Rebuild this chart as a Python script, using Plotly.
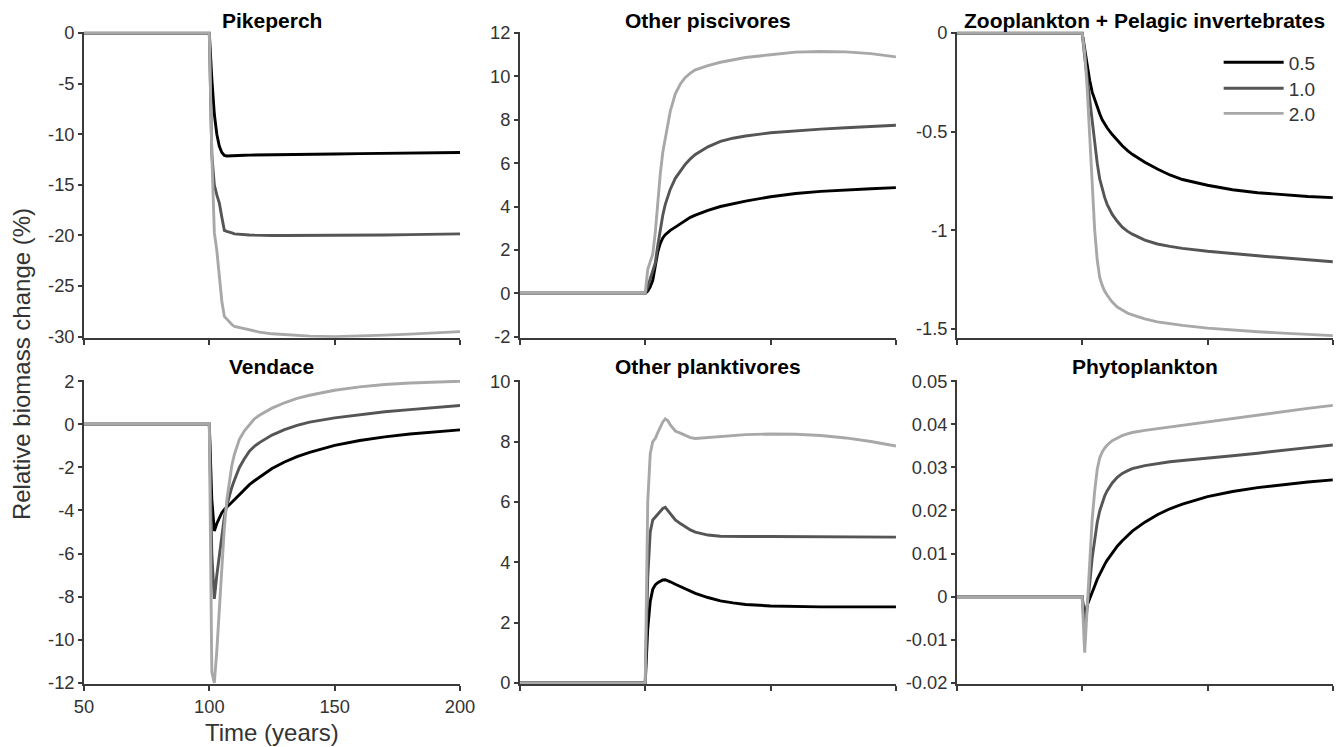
import plotly.graph_objects as go

# ---------------- data ----------------
years = [50, 100, 101, 102, 103, 104, 105, 106, 107, 108, 109, 110, 112, 114,
         116, 118, 120, 125, 130, 135, 140, 150, 160, 170, 180, 190, 200]
scenarios = ["0.5", "1.0", "2.0"]

pikeperch_05 = [0, 0, -4.5, -8.0, -10.0, -11.2, -11.8, -12.1, -12.15, -12.15, -12.12, -12.1, -12.1, -12.08,
                -12.06, -12.05, -12.05, -12.02, -12.0, -12.0, -11.98, -11.95, -11.92, -11.9, -11.87, -11.83, -11.8]
pikeperch_10 = [0, 0, -12, -15, -16, -16.8, -18.2, -19.5, -19.6, -19.65, -19.75, -19.85, -19.9, -19.93,
                -19.95, -19.97, -20.0, -20.0, -20.0, -20.0, -20.0, -20.0, -19.98, -19.95, -19.92, -19.88, -19.85]
pikeperch_20 = [0, 0, -12, -19.7, -21.5, -23.8, -26.5, -28.0, -28.3, -28.5, -28.8, -29.0, -29.1, -29.25,
                -29.35, -29.45, -29.55, -29.72, -29.82, -29.9, -29.95, -30.0, -29.95, -29.85, -29.75, -29.6, -29.5]

piscivores_05 = [0, 0, 0.1, 0.3, 0.6, 1.2, 1.9, 2.3, 2.55, 2.7, 2.8, 2.9, 3.05, 3.2,
                 3.35, 3.5, 3.6, 3.82, 4.0, 4.13, 4.25, 4.45, 4.6, 4.7, 4.77, 4.82, 4.87]
piscivores_10 = [0, 0, 0.3, 0.7, 1.0, 1.4, 2.2, 3.0, 3.6, 4.1, 4.5, 4.8, 5.3, 5.65,
                 5.95, 6.2, 6.4, 6.75, 7.0, 7.15, 7.25, 7.4, 7.5, 7.57, 7.63, 7.68, 7.75]
piscivores_20 = [0, 0, 1.1, 1.5, 1.8, 2.8, 4.2, 5.5, 6.5, 7.2, 7.9, 8.4, 9.2, 9.65,
                 9.95, 10.15, 10.3, 10.5, 10.65, 10.77, 10.87, 11.0, 11.12, 11.15, 11.13, 11.05, 10.9]

zoo_05 = [0, 0, -0.08, -0.17, -0.24, -0.3, -0.34, -0.38, -0.41, -0.44, -0.462, -0.482, -0.515, -0.545,
          -0.572, -0.595, -0.615, -0.655, -0.69, -0.72, -0.743, -0.772, -0.795, -0.81, -0.82, -0.829, -0.835]
zoo_10 = [0, 0, -0.12, -0.23, -0.33, -0.45, -0.57, -0.66, -0.74, -0.79, -0.835, -0.87, -0.92, -0.955,
          -0.985, -1.005, -1.02, -1.05, -1.07, -1.082, -1.092, -1.107, -1.12, -1.13, -1.14, -1.15, -1.16]
zoo_20 = [0, 0, -0.1, -0.28, -0.52, -0.78, -1.0, -1.15, -1.24, -1.28, -1.31, -1.33, -1.365, -1.39,
          -1.405, -1.42, -1.43, -1.45, -1.465, -1.475, -1.483, -1.497, -1.507, -1.515, -1.522, -1.53, -1.535]

vendace_05 = [0, 0, -3.5, -4.95, -4.6, -4.35, -4.1, -3.95, -3.85, -3.75, -3.62, -3.5, -3.25, -3.02,
              -2.8, -2.62, -2.45, -2.05, -1.75, -1.5, -1.3, -0.98, -0.75, -0.58, -0.45, -0.35, -0.26]
vendace_10 = [0, 0, -6, -8.1, -7.0, -6.0, -5.0, -4.3, -3.75, -3.3, -2.92, -2.6, -2.0, -1.6,
              -1.25, -1.02, -0.85, -0.5, -0.25, -0.05, 0.1, 0.3, 0.45, 0.58, 0.68, 0.78, 0.87]
vendace_20 = [0, 0, -11.5, -12, -10.5, -8.5, -6.5, -4.8, -3.5, -2.6, -1.9, -1.4, -0.7, -0.3,
              0.0, 0.25, 0.42, 0.75, 1.0, 1.2, 1.35, 1.58, 1.74, 1.85, 1.92, 1.97, 2.0]

planktivores_05 = [0, 0, 1.8, 2.7, 3.1, 3.25, 3.32, 3.38, 3.41, 3.42, 3.39, 3.35, 3.27, 3.19,
                   3.11, 3.04, 2.97, 2.83, 2.72, 2.65, 2.6, 2.55, 2.53, 2.52, 2.52, 2.52, 2.52]
planktivores_10 = [0, 0, 3.5, 5.0, 5.4, 5.5, 5.6, 5.7, 5.78, 5.82, 5.72, 5.6, 5.4, 5.28,
                   5.16, 5.07, 5.0, 4.9, 4.86, 4.85, 4.85, 4.85, 4.85, 4.85, 4.84, 4.84, 4.83]
planktivores_20 = [0, 0, 6.0, 7.6, 8.0, 8.1, 8.3, 8.5, 8.65, 8.75, 8.7, 8.55, 8.35, 8.28,
                   8.2, 8.13, 8.1, 8.13, 8.18, 8.21, 8.23, 8.25, 8.24, 8.2, 8.12, 8.0, 7.85]

phyto_05 = [0, 0, -0.005, -0.002, -0.0005, 0.0008, 0.0025, 0.004, 0.0053, 0.0065, 0.0075, 0.0085, 0.0102, 0.0117,
            0.013, 0.0142, 0.0152, 0.0173, 0.019, 0.0204, 0.0215, 0.0232, 0.0244, 0.0253, 0.026, 0.0266, 0.0271]
phyto_10 = [0, 0, -0.008, -0.003, 0.003, 0.009, 0.0135, 0.0172, 0.0199, 0.0218, 0.0234, 0.0246, 0.0264, 0.0277,
            0.0286, 0.0292, 0.0297, 0.0304, 0.0309, 0.0313, 0.0316, 0.0321, 0.0327, 0.0333, 0.034, 0.0346, 0.0352]
phyto_20 = [0, 0, -0.013, -0.003, 0.01, 0.018, 0.0245, 0.0295, 0.0322, 0.0336, 0.0345, 0.0352, 0.0362, 0.0369,
            0.0374, 0.0378, 0.0381, 0.0386, 0.039, 0.0394, 0.0398, 0.0406, 0.0414, 0.0421, 0.0429, 0.0437, 0.0444]

titles = ["Pikeperch", "Other piscivores", "Zooplankton + Pelagic invertebrates",
          "Vendace", "Other planktivores", "Phytoplankton"]

x_ticks = [50, 100, 150, 200]
x_ticklabels = ["50", "100", "150", "200"]

pike_ticks = [0, -5, -10, -15, -20, -25, -30]
pike_labels = ["0", "-5", "-10", "-15", "-20", "-25", "-30"]
pisc_ticks = [-2, 0, 2, 4, 6, 8, 10, 12]
pisc_labels = ["-2", "0", "2", "4", "6", "8", "10", "12"]
zoo_ticks = [0, -0.5, -1, -1.5]
zoo_labels = ["0", "-0.5", "-1", "-1.5"]
vend_ticks = [2, 0, -2, -4, -6, -8, -10, -12]
vend_labels = ["2", "0", "-2", "-4", "-6", "-8", "-10", "-12"]
plank_ticks = [0, 2, 4, 6, 8, 10]
plank_labels = ["0", "2", "4", "6", "8", "10"]
phyto_ticks = [0.05, 0.04, 0.03, 0.02, 0.01, 0, -0.01, -0.02]
phyto_labels = ["0.05", "0.04", "0.03", "0.02", "0.01", "0", "-0.01", "-0.02"]

# ---------------- layout helpers ----------------
# Observed rendering: page body keeps an 8 px margin and the captured page
# behaves like a 1366x768 viewport scaled down to 1344x747.
VW, VH = 1366, 768
OFF = 8
SX, SY = 1344 / VW, 747 / VH
W, H = VW - 2 * OFF, VH - 2 * OFF
DX, DY = -1.0, -2.5   # small empirical correction


def px_x(p):
    return ((p + DX) / SX - OFF) / W


def px_y(p):
    return 1 - ((p + DY) / SY - OFF) / H


col_px = [(83, 460), (520, 897), (958, 1335)]
row_px = [(33, 338), (380, 683)]
title_gap_px = [11, 13]

panels = [
    ([pikeperch_05, pikeperch_10, pikeperch_20], [-30, 0], pike_ticks, pike_labels),
    ([piscivores_05, piscivores_10, piscivores_20], [-2, 12], pisc_ticks, pisc_labels),
    ([zoo_05, zoo_10, zoo_20], [-1.54, 0], zoo_ticks, zoo_labels),
    ([vendace_05, vendace_10, vendace_20], [-12, 2], vend_ticks, vend_labels),
    ([planktivores_05, planktivores_10, planktivores_20], [0, 10], plank_ticks, plank_labels),
    ([phyto_05, phyto_10, phyto_20], [-0.02, 0.05], phyto_ticks, phyto_labels),
]

colors = ["#000000", "#555555", "#a8a8a8"]
legend_ids = ["legend", "legend2", "legend3"]
legend_rows_px = [62, 88, 113]   # vertical centres of the legend entries
FONT = "Liberation Sans, Arial, sans-serif"
AXC = "#3a3a3a"
TXT = "#333333"

fig = go.Figure()
layout = dict(
    width=W, height=H, autosize=False, margin=dict(l=0, r=0, t=0, b=0, pad=0),
    paper_bgcolor="white", plot_bgcolor="white",
    font=dict(family=FONT, size=18, color=TXT),
    showlegend=True,
)
for lid, row in zip(legend_ids, legend_rows_px):
    layout[lid] = dict(x=px_x(1220.5), y=px_y(row - 17.5), xanchor="left", yanchor="top",
                       bgcolor="rgba(0,0,0,0)", font=dict(size=19, color=TXT),
                       itemwidth=60, tracegroupgap=0)
annotations = []

for i, (series, yr, ticks, labels) in enumerate(panels):
    r, c = divmod(i, 3)
    n = i + 1
    xa = "xaxis" if n == 1 else f"xaxis{n}"
    ya = "yaxis" if n == 1 else f"yaxis{n}"
    xref = "x" if n == 1 else f"x{n}"
    yref = "y" if n == 1 else f"y{n}"
    x0, x1 = col_px[c]
    top, bot = row_px[r]
    for k, vals in enumerate(series):
        fig.add_trace(go.Scatter(
            x=years, y=vals, mode="lines", name=scenarios[k],
            line=dict(color=colors[k], width=2.9),
            xaxis=xref, yaxis=yref, legendgroup=scenarios[k],
            legend=legend_ids[k],
            showlegend=(i == 0), hoverinfo="skip"))
    pad = (yr[1] - yr[0]) * 0.004
    layout[xa] = dict(domain=[px_x(x0), px_x(x1)], anchor=yref, range=[50, 200],
                      tickvals=x_ticks, ticktext=x_ticklabels,
                      showticklabels=(i == 3), ticks="outside", ticklen=5,
                      tickwidth=1.5, tickcolor=AXC, showline=True, linecolor=AXC,
                      linewidth=1.5, showgrid=False, zeroline=False,
                      tickfont=dict(size=18.3, color=TXT))
    layout[ya] = dict(domain=[px_y(bot), px_y(top)], anchor=xref,
                      range=[yr[0] - pad, yr[1] + pad],
                      tickvals=ticks, ticktext=labels, ticks="outside", ticklen=4,
                      tickwidth=1.5, tickcolor=AXC, showline=True, linecolor=AXC,
                      linewidth=1.5, showgrid=False, zeroline=False,
                      tickfont=dict(size=18.3, color=TXT))
    annotations.append(dict(text=f"<b>{titles[i]}</b>", x=px_x((x0 + x1) / 2),
                            y=px_y(top - title_gap_px[r]), xref="paper", yref="paper",
                            xanchor="center", yanchor="middle", showarrow=False,
                            font=dict(size=21, color="#000000", family=FONT)))

annotations.append(dict(text="Relative biomass change (%)", x=px_x(21), y=px_y(364),
                        xref="paper", yref="paper", textangle=-90, showarrow=False,
                        xanchor="center", yanchor="middle",
                        font=dict(size=24, color=TXT, family=FONT)))
annotations.append(dict(text="Time (years)", x=px_x(272), y=px_y(731),
                        xref="paper", yref="paper", showarrow=False,
                        xanchor="center", yanchor="middle",
                        font=dict(size=24, color=TXT, family=FONT)))
layout["annotations"] = annotations
fig.update_layout(**layout)

fig.write_html("out.html")
